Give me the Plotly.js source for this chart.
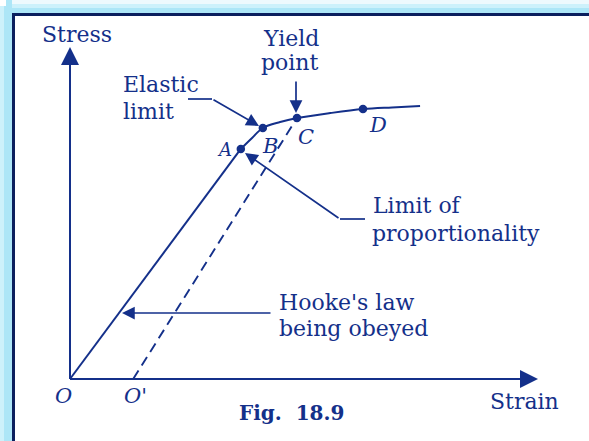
<!DOCTYPE html>
<html>
<head>
<meta charset="utf-8">
<script src="https://cdn.plot.ly/plotly-3.0.1.min.js"></script>
<style>html,body{margin:0;padding:0;background:#fff;}#chart{width:589px;height:441px;}</style>
</head>
<body>
<div id="chart"></div>
<script>
// ---- data (strain / stress in arbitrary units, axis length = 10) ----
var linearStrain = [0, 3.65];
var linearStress = [0, 6.93];
var curveStrain = [3.65, 3.89, 4.12, 4.49, 4.85, 5.56, 6.26, 6.88, 7.48];
var curveStress = [6.93, 7.26, 7.56, 7.74, 7.86, 8.01, 8.13, 8.18, 8.22];
var pointNames = ['A', 'B', 'C', 'D'];
var pointStrain = [3.65, 4.12, 4.85, 6.26];
var pointStress = [6.93, 7.56, 7.86, 8.13];
var unloadStrain = [1.35, 4.85];   // O' -> C
var unloadStress = [0, 7.86];
var axisMax = 10;

var W = 589, H = 441, OX = 70, OY = 379, KX = 46.8, KY = 33.2;
function X(px) { return (px - OX) / KX; }
function Y(py) { return (OY - py) / KY; }

var ink = '#14308a';
var serif = 'DejaVu Serif';

var traces = [
  {x: linearStrain, y: linearStress, mode: 'lines', line: {color: ink, width: 2}},
  {x: curveStrain, y: curveStress, mode: 'lines', line: {color: ink, width: 2, shape: 'spline'}},
  {x: unloadStrain, y: unloadStress, mode: 'lines', line: {color: ink, width: 1.9, dash: '10px,6px'}},
  {x: pointStrain, y: pointStress, mode: 'markers', marker: {color: ink, size: 8.5}},
  // axes
  {x: [0, axisMax - 0.2], y: [0, 0], mode: 'lines', line: {color: ink, width: 2}},
  {x: [0, 0], y: [0, axisMax - 0.2], mode: 'lines', line: {color: ink, width: 2}},
  // bent callout leaders
  {x: [X(188), X(212)], y: [Y(99), Y(99)], mode: 'lines', line: {color: ink, width: 1.7}},
  {x: [X(340), X(365)], y: [Y(219), Y(219)], mode: 'lines', line: {color: ink, width: 1.7}}
];

function arrow(x, y, axv, ayv, size, w) {
  return {x: x, y: y, ax: axv, ay: ayv, xref: 'x', yref: 'y', axref: 'x', ayref: 'y',
    text: '', showarrow: true, arrowhead: 2, arrowsize: size, arrowwidth: w, arrowcolor: ink, standoff: 0};
}
function label(txt, px, py, size, anchor, weight) {
  return {x: X(px), y: Y(py), xref: 'x', yref: 'y', text: txt, showarrow: false,
    xanchor: anchor || 'left', yanchor: 'middle',
    font: {family: serif, size: size, color: ink, weight: weight || 'normal'}};
}

var annotations = [
  arrow(axisMax, 0, 0, 0, 1.8, 2),
  arrow(0, axisMax, 0, 0, 1.8, 2),
  arrow(X(259), Y(126), X(212), Y(99), 1.5, 1.7),
  arrow(X(296), Y(113), X(296), Y(80), 1.5, 1.7),
  arrow(X(245), Y(153), X(340), Y(219), 1.5, 1.7),
  arrow(X(122), Y(313), X(272), Y(313), 1.5, 1.7),
  label('Stress', 40, 34, 22),
  label('Yield', 261, 38, 22),
  label('point', 259, 62, 22),
  label('Elastic', 121, 84, 22),
  label('limit', 121, 111, 22),
  label('Limit of', 371, 205, 22),
  label('proportionality', 370, 233, 22),
  label('Hooke\'s law', 277, 302, 22),
  label('being obeyed', 277, 328, 22),
  label('Strain', 488, 401, 22),
  label('Fig.  18.9', 237, 413, 20, 'left', 'bold'),
  label('<i>O</i>', 63, 396, 21, 'center'),
  label('<i>O\'</i>', 122, 396, 21),
  label('<i>' + pointNames[0] + '</i>', 224, 149, 18, 'center'),
  label('<i>' + pointNames[1] + '</i>', 270, 146, 21, 'center'),
  label('<i>' + pointNames[2] + '</i>', 306, 137, 21, 'center'),
  label('<i>' + pointNames[3] + '</i>', 378, 125, 21, 'center')
];

function pr(x0, y0, x1, y1, color) {
  return {type: 'rect', xref: 'paper', yref: 'paper', x0: x0 / W, x1: x1 / W,
    y0: 1 - y1 / H, y1: 1 - y0 / H, fillcolor: color, line: {width: 0}, layer: 'above'};
}
var shapes = [
  pr(0, 0, W, 4, '#eef9fd'),
  pr(0, 4, W, 8, '#cdf1fb'),
  pr(0, 8, W, 13, '#ade6f7'),
  pr(0, 0, 4, H, '#cdf1fb'),
  pr(4, 0, 12, H, '#ade6f7'),
  pr(0, 0, 6, 6, '#ffffff'),
  pr(12, 13, W, 16, '#0b1f5e'),
  pr(12, 13, 15, H, '#0b1f5e')
];

var layout = {
  width: W, height: H,
  margin: {l: 0, r: 0, t: 0, b: 0},
  paper_bgcolor: '#ffffff', plot_bgcolor: '#ffffff',
  showlegend: false,
  xaxis: {range: [X(0), X(W)], visible: false, fixedrange: true},
  yaxis: {range: [Y(H), Y(0)], visible: false, fixedrange: true},
  annotations: annotations,
  shapes: shapes
};

Plotly.newPlot('chart', traces, layout, {staticPlot: true, displayModeBar: false});
</script>
</body>
</html>
